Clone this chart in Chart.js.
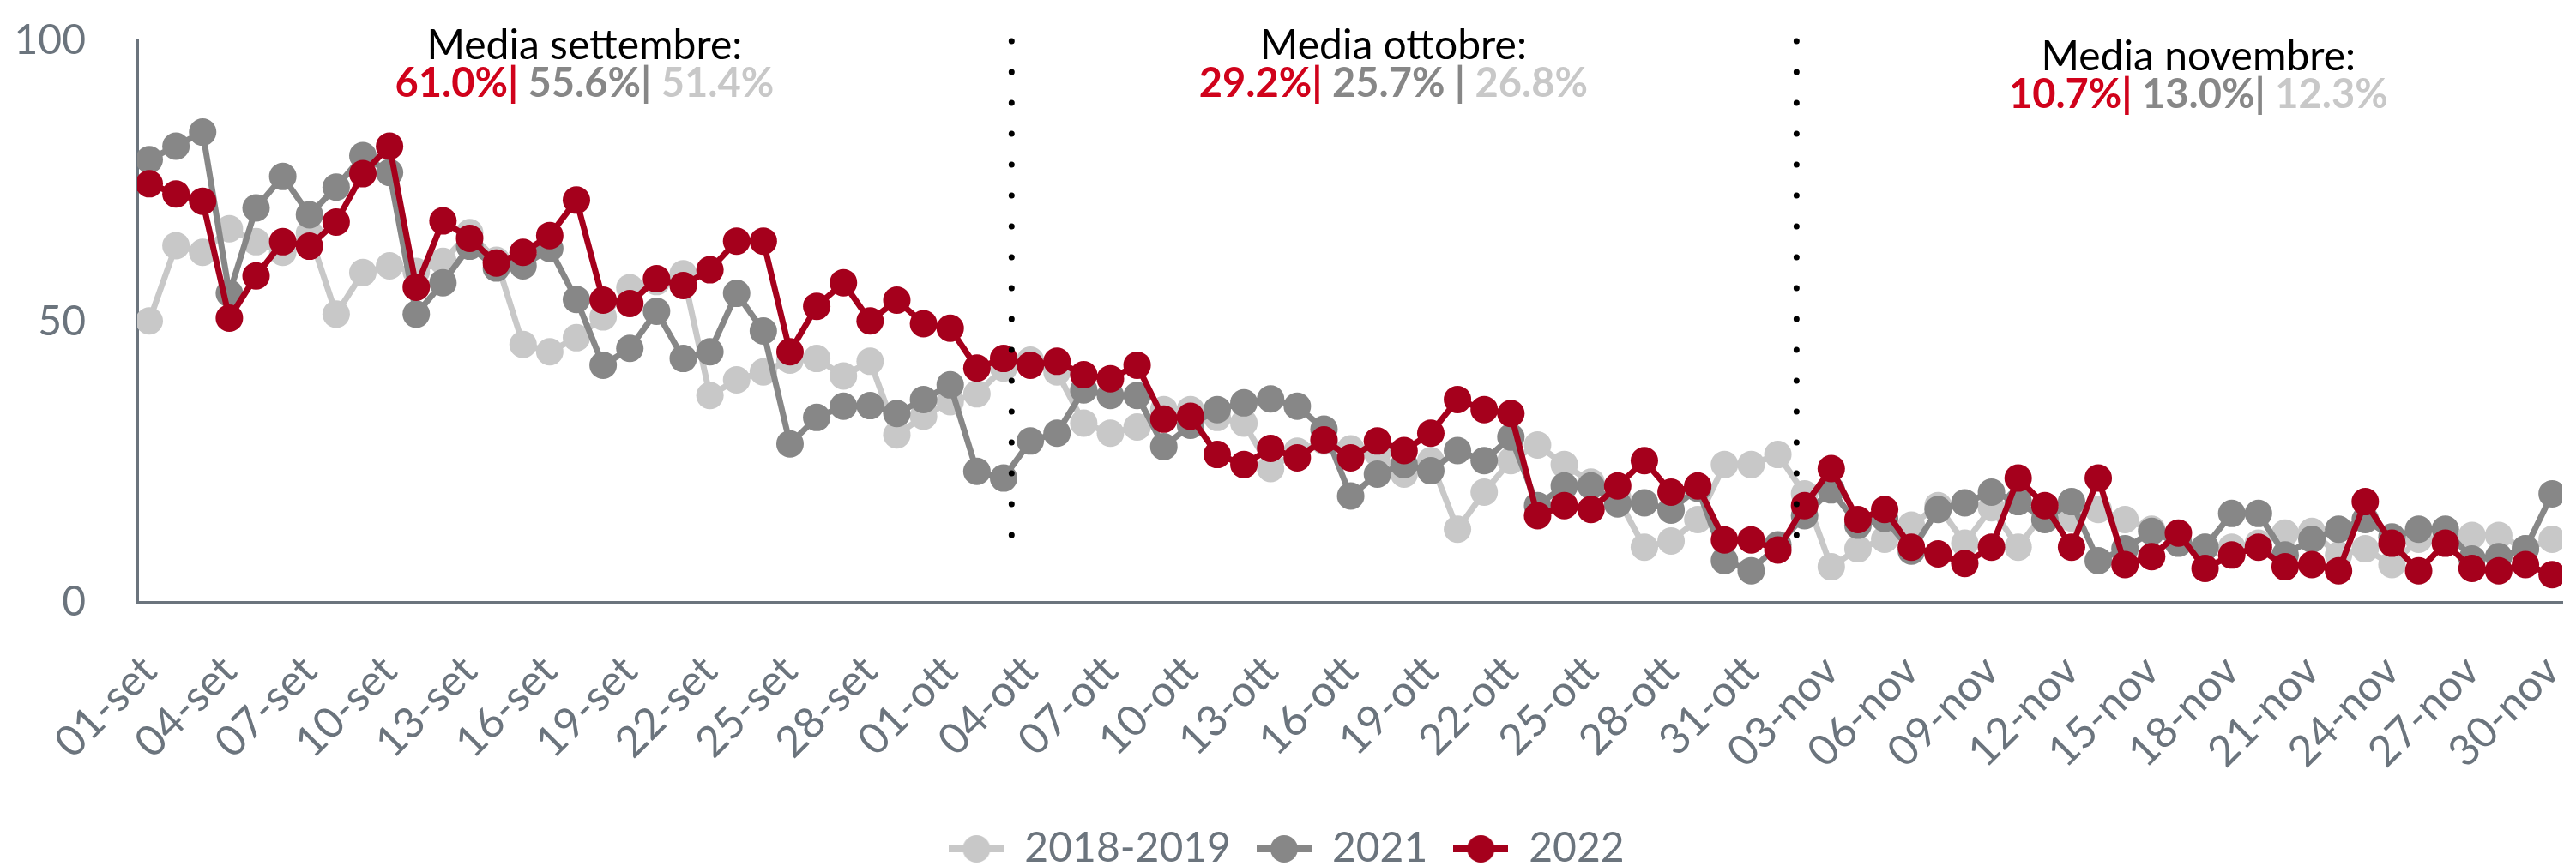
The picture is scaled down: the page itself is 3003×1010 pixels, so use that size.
<!DOCTYPE html>
<html>
<head>
<meta charset="utf-8">
<script src="https://cdn.jsdelivr.net/npm/chart.js@4.4.0/dist/chart.umd.min.js"></script>
<style>
  html, body { margin: 0; padding: 0; background: #fff; }
  #wrap { width: 3003px; height: 1010px; position: relative; }
</style>
</head>
<body>
<div id="wrap"><canvas id="trendChart"></canvas></div>
<script>
// day labels: 01-set ... 30-nov
const months = [["set", 30], ["ott", 31], ["nov", 30]];
const dayLabels = [];
months.forEach(([name, days]) => {
    for (let d = 1; d <= days; d++) dayLabels.push(String(d).padStart(2, "0") + "-" + name);
});

const values2018 = [
    50.2, 63.6, 62.4, 66.6, 64.3, 62.4, 65.8, 51.4, 58.8, 60.0,
    59.0, 60.8, 65.9, 61.0, 46.0, 44.7, 47.2, 50.9, 56.1, 57.2,
    58.6, 36.9, 39.7, 41.1, 43.2, 43.5, 40.4, 43.0, 29.9, 33.2,
    35.8, 37.2, 41.8, 43.2, 41.1, 32.0, 30.2, 31.3, 34.4, 34.4,
    33.0, 32.0, 23.9, 27.0, 28.8, 27.4, 26.7, 22.9, 25.3, 13.1,
    19.7, 25.3, 28.1, 24.6, 21.5, 18.7, 9.9, 11.0, 14.8, 24.6,
    24.6, 26.4, 19.4, 6.4, 9.6, 11.3, 13.8, 17.3, 10.6, 16.9,
    9.9, 16.2, 15.1, 16.6, 14.8, 13.1, 11.0, 9.9, 9.9, 10.6,
    12.4, 12.7, 8.5, 9.6, 6.8, 11.3, 11.3, 12.0, 12.0, 9.6,
    11.3
];
const values2021 = [
    78.9, 81.3, 83.8, 55.1, 70.3, 75.9, 69.1, 74.0, 79.6, 76.6,
    51.4, 57.0, 63.5, 59.6, 60.0, 63.1, 54.0, 42.3, 45.3, 51.9,
    43.5, 44.7, 55.1, 48.4, 28.3, 33.0, 35.0, 35.1, 33.7, 36.2,
    38.8, 23.4, 22.2, 28.8, 30.2, 37.9, 36.9, 36.9, 27.8, 31.6,
    34.4, 35.6, 36.3, 35.0, 30.9, 19.0, 22.9, 24.6, 23.5, 27.1,
    25.3, 29.5, 17.3, 20.8, 20.8, 17.6, 17.8, 16.5, 20.4, 7.5,
    5.7, 10.3, 15.5, 20.1, 13.8, 15.0, 9.2, 16.6, 17.8, 19.7,
    18.0, 14.8, 18.0, 7.5, 9.6, 12.7, 10.6, 9.9, 15.9, 15.9,
    8.5, 11.3, 13.1, 14.8, 11.7, 13.1, 13.1, 7.8, 8.2, 9.6,
    19.4
];
const values2022 = [
    74.6, 72.8, 71.5, 50.7, 58.2, 64.3, 63.5, 67.8, 76.4, 81.3,
    56.2, 68.0, 64.9, 60.5, 62.4, 65.4, 71.7, 53.9, 53.3, 57.7,
    56.5, 59.3, 64.4, 64.4, 44.7, 52.8, 57.0, 50.2, 53.9, 49.7,
    48.9, 41.8, 43.5, 42.3, 43.0, 40.6, 39.9, 42.3, 32.7, 33.2,
    26.4, 24.6, 27.5, 25.8, 29.0, 25.8, 28.8, 27.1, 30.2, 36.2,
    34.4, 33.7, 15.5, 17.3, 16.6, 20.8, 25.3, 19.7, 20.8, 11.2,
    11.2, 9.4, 17.3, 23.9, 14.8, 16.6, 9.9, 8.7, 7.0, 9.9,
    22.2, 17.3, 9.9, 22.2, 6.8, 8.2, 12.4, 6.1, 8.5, 9.9,
    6.4, 6.8, 5.7, 18.0, 10.6, 5.7, 10.6, 6.1, 5.7, 6.8,
    5.0
];

const seriesNames = ["2018-2019", "2021", "2022"];
const seriesValues = [values2018, values2021, values2022];

// monthly averages shown on top of the chart
const noteTitles = ["Media settembre:", "Media ottobre:", "Media novembre:"];
const avg2022 = ["61.0%", "29.2%", "10.7%"];
const avg2021 = ["55.6%", "25.7%", "13.0%"];
const avg2018 = ["51.4%", "26.8%", "12.3%"];

const lineColors = ["#c8c8c8", "#878787", "#a5001c"];
const textColors = ["#c8c8c8", "#878787", "#d0021b"];
const axisColor = "#6b747d";
const fontFamily = "Lato, 'Open Sans', sans-serif";

Chart.defaults.font.family = fontFamily;

// legend marker: short line with a dot
function legendMarker(color) {
    const c = document.createElement("canvas");
    c.width = 64;
    c.height = 34;
    const g = c.getContext("2d");
    g.fillStyle = color;
    g.fillRect(0, 13, 64, 8);
    g.beginPath();
    g.arc(32, 17, 16, 0, Math.PI * 2);
    g.fill();
    return c;
}

const notesPlugin = {
    id: "monthNotes",
    afterDatasetsDraw(chart) {
        const { ctx, scales: { x, y } } = chart;
        ctx.save();

        // dotted month dividers
        ctx.strokeStyle = "#000";
        ctx.lineWidth = 7;
        ctx.lineCap = "round";
        ctx.setLineDash([0, 36]);
        [32.3, 61.7].forEach((v) => {
            const px = x.getPixelForValue(v);
            ctx.beginPath();
            ctx.moveTo(px, y.getPixelForValue(100));
            ctx.lineTo(px, y.getPixelForValue(12));
            ctx.stroke();
        });
        ctx.setLineDash([]);

        const centers = [16.3, 46.6, 76.75];
        const drops = [0, 0, 13];
        const graySep = ["|", " |", "|"];
        ctx.textBaseline = "alphabetic";
        noteTitles.forEach((title, m) => {
            const cx = x.getPixelForValue(centers[m]);
            const top = chart.chartArea.top + drops[m];
            ctx.font = "48px " + fontFamily;
            ctx.fillStyle = "#000";
            ctx.textAlign = "center";
            ctx.fillText(title, cx, top + 21);

            const parts = [
                [avg2022[m] + "|", textColors[2]],
                [" " + avg2021[m] + graySep[m], textColors[1]],
                [" " + avg2018[m], textColors[0]],
            ];
            ctx.font = "bold 47px " + fontFamily;
            const total = parts.reduce((s, p) => s + ctx.measureText(p[0]).width, 0);
            let px = cx - total / 2;
            ctx.textAlign = "left";
            parts.forEach(([t, col]) => {
                ctx.fillStyle = col;
                ctx.fillText(t, px, top + 65);
                px += ctx.measureText(t).width;
            });
        });
        ctx.restore();
    },
};

const ctx = document.getElementById("trendChart").getContext("2d");
new Chart(ctx, {
    type: "line",
    data: {
        datasets: seriesNames.map((name, k) => ({
            label: name,
            data: seriesValues[k].map((v, i) => ({ x: i, y: v })),
            borderColor: lineColors[k],
            backgroundColor: lineColors[k],
            pointBackgroundColor: lineColors[k],
            pointBorderWidth: 0,
            pointRadius: 16,
            borderWidth: 7,
            tension: 0,
            order: 3 - k,
            legendMarker: legendMarker(lineColors[k]),
        })),
    },
    options: {
        responsive: true,
        maintainAspectRatio: false,
        animation: false,
        events: [],
        layout: { padding: { top: 48, right: 3, left: 0, bottom: -14 } },
        scales: {
            x: {
                type: "linear",
                min: -0.45,
                max: 90.38,
                border: { display: true, color: axisColor, width: 4 },
                grid: { display: false, drawTicks: false },
                ticks: {
                    stepSize: 3,
                    includeBounds: false,
                    autoSkip: false,
                    minRotation: 45,
                    maxRotation: 45,
                    padding: 50,
                    color: axisColor,
                    font: { size: 50 },
                    callback: (v) => dayLabels[v],
                },
                afterFit: (s) => {
                    s.height = 233;
                    s.paddingLeft = 0;
                    s.paddingRight = 0;
                },
            },
            y: {
                min: 0,
                max: 100,
                border: { display: true, color: axisColor, width: 4 },
                grid: { display: false, drawTicks: false },
                ticks: {
                    stepSize: 50,
                    padding: 60,
                    color: axisColor,
                    font: { size: 48 },
                },
                afterFit: (s) => {
                    s.width = 160;
                    s.paddingTop = 0;
                    s.paddingBottom = 0;
                },
            },
        },
        plugins: {
            tooltip: { enabled: false },
            legend: {
                position: "bottom",
                labels: {
                    usePointStyle: true,
                    pointStyleWidth: 64,
                    padding: 30,
                    color: axisColor,
                    font: { size: 48 },
                    sort: (a, b) => a.datasetIndex - b.datasetIndex,
                    generateLabels: (chart) =>
                        Chart.defaults.plugins.legend.labels.generateLabels(chart).map((item) => {
                            item.pointStyle = chart.data.datasets[item.datasetIndex].legendMarker;
                            return item;
                        }),
                },
            },
        },
    },
    plugins: [notesPlugin],
});
</script>
</body>
</html>
